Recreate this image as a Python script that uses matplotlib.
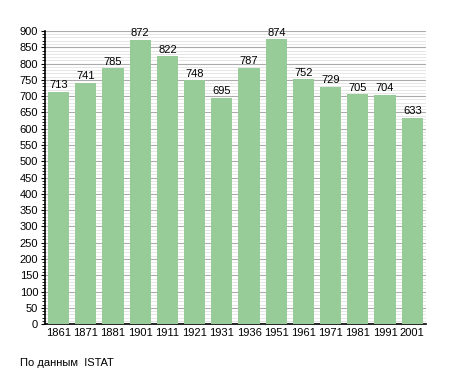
import matplotlib.pyplot as plt
from matplotlib.ticker import MultipleLocator

# population by census year
years = ["1861", "1871", "1881", "1901", "1911", "1921", "1931",
         "1936", "1951", "1961", "1971", "1981", "1991", "2001"]
population = [713, 741, 785, 872, 822, 748, 695, 787, 874, 752, 729, 705, 704, 633]

plt.rcParams["font.family"] = ["Liberation Sans", "DejaVu Sans"]

fig = plt.figure(figsize=(4.55, 3.73), dpi=100)
ax = fig.add_axes([0.099, 0.131, 0.837, 0.786])

x = range(len(years))
bars = ax.bar(x, population, width=0.78, color="#97cb97", zorder=3)
for xi, v in zip(x, population):
    ax.text(xi, v + 5, str(v), ha="center", va="bottom", fontsize=8, zorder=4)

ax.set_xlim(-0.5, len(years) - 0.5)
ax.set_ylim(0, 900)
ax.set_xticks(list(x))
ax.set_xticklabels(years, fontsize=8)
ax.yaxis.set_major_locator(MultipleLocator(50))
ax.yaxis.set_minor_locator(MultipleLocator(10))
ax.tick_params(axis="y", labelsize=8, length=3, pad=2)
ax.tick_params(axis="y", which="minor", length=2)
ax.tick_params(axis="x", length=0, pad=3)
ax.grid(axis="y", which="major", color="#ababab", lw=0.8, zorder=0)
ax.grid(axis="y", which="minor", color="#e2e2e2", lw=0.6, zorder=0)
for s in ["top", "right"]:
    ax.spines[s].set_visible(False)
ax.spines["left"].set_linewidth(1.2)
ax.spines["bottom"].set_linewidth(1.2)

fig.text(0.044, 0.018, "По данным  ISTAT", fontsize=8)

fig.savefig("out.png", dpi=100)
